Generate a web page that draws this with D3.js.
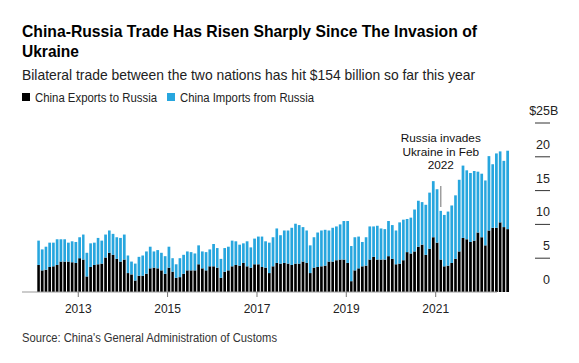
<!DOCTYPE html>
<html>
<head>
<meta charset="utf-8">
<script src="https://cdn.jsdelivr.net/npm/d3@7"></script>
<style>
	body { margin: 0; background: #fff; }
	text { font-family: "Liberation Sans", Arial, sans-serif; }
</style>
</head>
<body>
<div class="canvas"></div>
<script>
// monthly trade, $B
const exportsToRussia = [
	4.0,3.2,3.3,3.7,3.8,4.0,4.5,4.5,4.5,4.4,4.3,5.0,4.8,2.3,3.7,4.0,4.1,4.2,5.1,5.8,5.5,4.9,4.5,4.8,
	2.8,2.6,1.7,2.4,2.4,2.7,3.5,3.6,3.5,3.2,2.7,3.6,3.0,2.1,2.2,2.7,3.2,3.2,3.2,4.1,
	3.5,3.2,3.8,3.8,3.6,2.1,3.0,3.2,3.8,4.0,3.9,4.3,3.8,3.6,4.1,4.1,3.7,3.6,2.8,3.8,4.3,4.2,4.3,4.2,
	4.0,4.2,4.2,4.5,4.3,2.8,3.6,3.7,3.8,3.9,4.5,4.5,4.7,4.8,4.8,4.3,1.6,3.2,3.5,
	3.8,3.9,4.8,5.2,4.8,4.8,4.8,5.3,4.9,4.1,4.2,4.7,5.9,5.7,6.0,6.7,7.0,5.5,6.4,8.1,7.3,
	4.8,3.8,3.9,4.3,4.9,6.0,8.0,7.8,7.4,7.6,8.8,8.1,6.9,9.1,9.5,9.5,10.3,9.6,9.3
];
const importsFromRussia = [
	3.6,3.1,3.4,3.6,3.5,3.8,3.3,3.3,2.8,3.1,3.1,3.1,3.7,3.5,3.5,3.3,3.9,3.4,3.4,3.3,3.1,3.2,3.5,3.7,
	2.6,1.9,2.5,2.8,3.0,3.3,3.2,2.4,2.7,2.6,2.6,3.1,2.0,2.0,2.8,2.8,2.8,2.7,2.5,2.8,
	2.5,2.7,2.5,3.3,2.9,2.8,3.5,3.5,3.8,3.5,3.1,2.9,3.7,3.0,3.8,4.1,4.5,3.9,4.5,4.3,5.1,4.2,4.8,4.9,
	5.5,5.9,5.7,5.1,4.8,4.1,4.5,5.1,5.3,5.3,4.6,5.0,5.0,5.2,5.7,6.2,5.2,4.9,4.7,
	3.6,4.2,4.9,4.5,5.0,4.6,4.5,5.2,5.0,5.0,6.1,6.0,4.9,5.3,6.2,6.8,6.3,7.4,8.3,8.3,7.9,
	7.2,7.6,8.0,8.5,9.4,10.6,10.7,10.2,10.2,10.3,9.0,9.4,9.6,11.0,9.4,11.0,10.5,9.8,11.6
];
const months = d3.timeMonth.range(new Date(2012, 1, 1), new Date(2022, 8, 1));
const yTicks = [0, 5, 10, 15, 20, 25];
const yearTicks = [2013, 2015, 2017, 2019, 2021];
const annotationDate = new Date(2021, 1, 1);
const annotationLines = ['Russia invades', 'Ukraine in Feb', '2022'];

const colours = { exports: '#000000', imports: '#27a6de' };
const dims = { width: 579, height: 363 };

const svg = d3.select('.canvas')
	.append('svg')
	.attr('width', dims.width)
	.attr('height', dims.height);

// scales
const x = d3.scaleTime()
	.domain([new Date(2012, 0, 1), new Date(2023, 0, 1)])
	.range([33.5, 525]);

const y = d3.scaleLinear()
	.domain([0, 25])
	.range([292, 123]);

// titles (the original face is narrower, so squeeze to its widths)
svg.append('text')
	.attr('x', 22).attr('y', 37)
	.attr('font-size', 16.5).attr('font-weight', 'bold').attr('fill', '#000')
	.attr('textLength', 455).attr('lengthAdjust', 'spacingAndGlyphs')
	.text('China-Russia Trade Has Risen Sharply Since The Invasion of');
svg.append('text')
	.attr('x', 22).attr('y', 57)
	.attr('font-size', 16.5).attr('font-weight', 'bold').attr('fill', '#000')
	.attr('textLength', 57).attr('lengthAdjust', 'spacingAndGlyphs')
	.text('Ukraine');
svg.append('text')
	.attr('x', 22).attr('y', 80)
	.attr('font-size', 14.5).attr('fill', '#222')
	.attr('textLength', 453).attr('lengthAdjust', 'spacingAndGlyphs')
	.text('Bilateral trade between the two nations has hit $154 billion so far this year');

// legend
const legend = [
	{ label: 'China Exports to Russia', colour: colours.exports, x: 22, w: 122 },
	{ label: 'China Imports from Russia', colour: colours.imports, x: 167, w: 134 }
];
const legendItems = svg.selectAll('.legend')
	.data(legend)
	.enter()
	.append('g')
		.attr('class', 'legend')
		.attr('transform', d => `translate(${d.x}, 93)`);
legendItems.append('rect')
	.attr('width', 8).attr('height', 8)
	.attr('fill', d => d.colour);
legendItems.append('text')
	.attr('x', 13).attr('y', 8.5)
	.attr('font-size', 12.5).attr('fill', '#222')
	.attr('textLength', d => d.w).attr('lengthAdjust', 'spacingAndGlyphs')
	.text(d => d.label);

// stacked bars
const table = months.map((m, i) => ({ date: m, exports: exportsToRussia[i], imports: importsFromRussia[i] }));
const stack = d3.stack().keys(['exports', 'imports']);
const series = stack(table);

const barWidth = d => (x(d3.timeMonth.offset(d.data.date, 1)) - x(d.data.date)) * 0.72;

svg.selectAll('.series')
	.data(series)
	.enter()
	.append('g')
		.attr('class', 'series')
		.attr('fill', d => colours[d.key])
	.selectAll('rect')
	.data(d => d)
	.enter()
	.append('rect')
		.attr('x', d => x(d.data.date))
		.attr('y', d => y(d[1]))
		.attr('width', barWidth)
		.attr('height', d => y(d[0]) - y(d[1]));

// x axis
svg.append('line')
	.attr('x1', 22).attr('x2', 497)
	.attr('y1', y(0)).attr('y2', y(0))
	.attr('stroke', '#999').attr('stroke-width', 1);

const xTicks = svg.selectAll('.xtick')
	.data(yearTicks)
	.enter()
	.append('g')
		.attr('class', 'xtick')
		.attr('transform', d => `translate(${x(new Date(d, 0, 1))}, ${y(0)})`);
xTicks.append('line')
	.attr('y1', 0).attr('y2', 5)
	.attr('stroke', '#777');
xTicks.append('text')
	.attr('y', 21)
	.attr('text-anchor', 'middle')
	.attr('font-size', 12).attr('fill', '#222')
	.text(d => d);

// y axis on the right
const yAxis = svg.selectAll('.ytick')
	.data(yTicks)
	.enter()
	.append('g')
		.attr('class', 'ytick')
		.attr('transform', d => `translate(0, ${y(d)})`);
yAxis.filter(d => d > 0).append('line')
	.attr('x1', 535).attr('x2', 550)
	.attr('stroke', '#333').attr('stroke-width', 1);
yAxis.append('text')
	.attr('x', 550).attr('y', -8)
	.attr('text-anchor', 'end')
	.attr('font-size', 12.5).attr('fill', '#222')
	.text(d => d === 25 ? '$25' : d);
svg.append('text')
	.attr('x', 550).attr('y', y(25) - 8)
	.attr('font-size', 12.5).attr('fill', '#222')
	.text('B');

// annotation
const ax = x(annotationDate) + 1.3;
svg.append('line')
	.attr('x1', ax).attr('x2', ax)
	.attr('y1', 186).attr('y2', 207)
	.attr('stroke', '#888').attr('stroke-width', 1.2);
svg.append('text')
	.attr('text-anchor', 'middle')
	.attr('font-size', 11.8).attr('fill', '#111')
	.selectAll('tspan')
	.data(annotationLines)
	.enter()
	.append('tspan')
		.attr('x', ax)
		.attr('y', (d, i) => 142 + i * 13.5)
		.text(d => d);

// source
svg.append('text')
	.attr('x', 22).attr('y', 342)
	.attr('font-size', 12).attr('fill', '#333')
	.attr('textLength', 255).attr('lengthAdjust', 'spacingAndGlyphs')
	.text("Source: China's General Administration of Customs");
</script>
</body>
</html>
